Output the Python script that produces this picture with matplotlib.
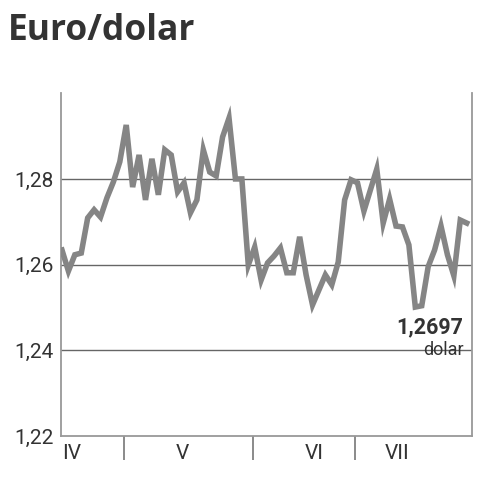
import matplotlib
matplotlib.use("Agg")
import matplotlib.pyplot as plt
import numpy as np

# Data
rates = [1.2634, 1.2585, 1.2623, 1.2627, 1.2709, 1.2728, 1.2711, 1.2756, 1.2793, 1.2840,
         1.2926, 1.2781, 1.2856, 1.2751, 1.2847, 1.2763, 1.2868, 1.2856, 1.2770, 1.2791,
         1.2721, 1.2751, 1.2868, 1.2816, 1.2807, 1.2898, 1.2942, 1.2800, 1.2800, 1.2599,
         1.2641, 1.2564, 1.2604, 1.2620, 1.2639, 1.2581, 1.2581, 1.2665, 1.2576, 1.2506,
         1.2541, 1.2576, 1.2553, 1.2606, 1.2751, 1.2798, 1.2791, 1.2725, 1.2774, 1.2823,
         1.2697, 1.2753, 1.2690, 1.2688, 1.2646, 1.2501, 1.2504, 1.2595, 1.2634, 1.2690,
         1.2623, 1.2574, 1.2704, 1.2697]
month_labels = ["IV", "V", "VI", "VII"]
month_label_pos = [1.56, 18.8, 39.3, 52.1]
month_bounds = [9.64, 29.7, 45.6]
y_ticks = [1.22, 1.24, 1.26, 1.28]
y_tick_labels = ["1,22", "1,24", "1,26", "1,28"]
last_value_label = "1,2697"

fig = plt.figure(figsize=(4.8, 4.8), dpi=100)
ax = fig.add_axes([0.127, 0.0917, 0.856, 0.714])

x = np.arange(len(rates))
for yv in [1.24, 1.26, 1.28]:
    ax.axhline(yv, color="#666666", lw=1.0, zorder=1)
ax.plot(x, rates, color="#858585", lw=4.0, solid_joinstyle="miter", zorder=3)

ax.set_xlim(-0.16, 63.8)
ax.set_ylim(1.22, 1.30)

for s in ["left", "right", "bottom"]:
    ax.spines[s].set_color("#999999")
    ax.spines[s].set_linewidth(1.3)
ax.spines["top"].set_visible(False)

ax.set_yticks(y_ticks)
ax.set_yticklabels(y_tick_labels, fontsize=15, fontfamily="Roboto", color="#333333")
ax.tick_params(axis="y", length=0, pad=5)

ax.set_xticks(month_label_pos)
ax.set_xticklabels(month_labels, fontsize=15, fontfamily="Roboto", color="#333333")
ax.tick_params(axis="x", which="major", length=0, pad=6)
ax.set_xticks(month_bounds, minor=True)
ax.tick_params(axis="x", which="minor", length=17, width=1.2, color="#777777", direction="out")

ax.text(0.98, 0.318, last_value_label, transform=ax.transAxes, ha="right", va="center",
        fontsize=15.5, fontweight="bold", fontfamily="Roboto", color="#333333", zorder=4)
ax.text(0.98, 0.25, "dolar", transform=ax.transAxes, ha="right", va="center",
        fontsize=13, fontfamily="Roboto", color="#333333", zorder=4)

fig.text(0.017, 0.935, "Euro/dolar", fontsize=25.5, fontweight="bold",
         fontfamily="Open Sans", color="#333333", ha="left", va="center")

fig.savefig("out.png", dpi=100, facecolor="white")
